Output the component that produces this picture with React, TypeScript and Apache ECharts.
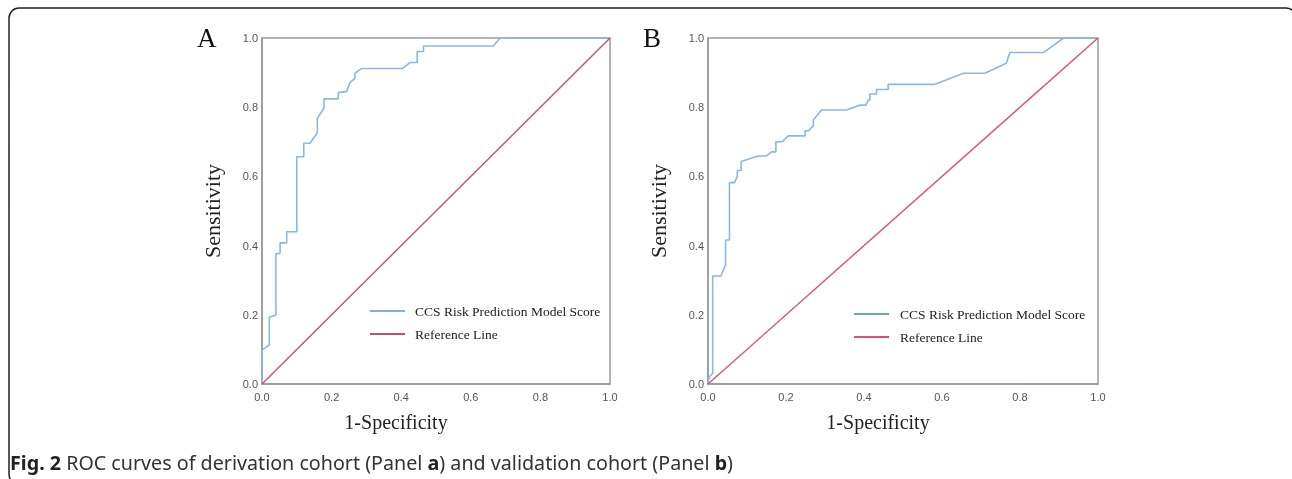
import React, { useEffect, useRef } from "react";
import * as echarts from "echarts";

const seriesNames = ["CCS Risk Prediction Model Score", "Reference Line"];
const panelLabels = ["A", "B"];
const xAxisTitle = "1-Specificity";
const yAxisTitle = "Sensitivity";

// Panel A (derivation cohort)
const fprA = [0, 0, 0.021, 0.021, 0.04, 0.04, 0.052, 0.052, 0.071, 0.071, 0.1, 0.1, 0.12, 0.12, 0.138, 0.159, 0.159, 0.178, 0.178, 0.219, 0.219, 0.243, 0.253, 0.267, 0.267, 0.286, 0.404, 0.425, 0.446, 0.446, 0.464, 0.464, 0.665, 0.684, 1];
const tprA = [0, 0.098, 0.113, 0.193, 0.199, 0.376, 0.378, 0.408, 0.408, 0.44, 0.44, 0.657, 0.657, 0.696, 0.696, 0.726, 0.768, 0.797, 0.824, 0.824, 0.842, 0.845, 0.871, 0.883, 0.898, 0.912, 0.912, 0.929, 0.929, 0.961, 0.961, 0.977, 0.977, 1, 1];

// Panel B (validation cohort)
const fprB = [0, 0.003, 0.012, 0.012, 0.033, 0.045, 0.045, 0.055, 0.055, 0.068, 0.075, 0.075, 0.085, 0.085, 0.129, 0.15, 0.163, 0.174, 0.174, 0.19, 0.206, 0.249, 0.249, 0.258, 0.27, 0.27, 0.291, 0.355, 0.39, 0.405, 0.411, 0.415, 0.415, 0.432, 0.432, 0.462, 0.462, 0.582, 0.655, 0.71, 0.765, 0.774, 0.86, 0.912, 1];
const tprB = [0, 0.02, 0.031, 0.312, 0.312, 0.344, 0.416, 0.416, 0.582, 0.582, 0.6, 0.617, 0.617, 0.643, 0.659, 0.659, 0.671, 0.671, 0.7, 0.7, 0.717, 0.717, 0.732, 0.732, 0.746, 0.763, 0.792, 0.792, 0.806, 0.806, 0.821, 0.821, 0.838, 0.838, 0.851, 0.851, 0.866, 0.866, 0.898, 0.898, 0.927, 0.958, 0.958, 1, 1];

const refX = [0, 1];
const refY = [0, 1];

const captionBold = "Fig. 2";
const captionText = " ROC curves of derivation cohort (Panel ";
const captionMid = ") and validation cohort (Panel ";

const zip = (xs: number[], ys: number[]) => xs.map((x, i) => [x, ys[i]]);

export default function App() {
  const ref = useRef<HTMLDivElement>(null);
  useEffect(() => {
    document.body.style.margin = "0";
    const chart = echarts.init(ref.current!, null, { renderer: "svg" });
    const serif = "'Liberation Serif', 'DejaVu Serif', serif";
    const sans = "'Liberation Sans', Arial, sans-serif";
    const grids = [
      { left: 262, top: 38, width: 348, height: 346 },
      { left: 708, top: 38, width: 390, height: 346 },
    ];
    const titleShift = [80, 50];
    const mkX = (i: number) => ({
      type: "value",
      gridIndex: i,
      min: 0,
      max: 1,
      interval: 0.2,
      name: xAxisTitle,
      nameLocation: "middle",
      nameGap: 28,
      nameTextStyle: { fontFamily: serif, fontSize: 20, color: "#222", padding: [0, titleShift[i], 0, 0] },
      axisLine: { show: true, lineStyle: { color: "#999", width: 1.5 } },
      axisTick: { show: false },
      splitLine: { show: false },
      axisLabel: {
        color: "#555",
        fontFamily: sans,
        fontSize: 11,
        margin: 7,
        formatter: (v: number) => v.toFixed(1),
      },
    });
    const mkY = (i: number) => ({
      type: "value",
      gridIndex: i,
      min: 0,
      max: 1,
      interval: 0.2,
      name: yAxisTitle,
      nameLocation: "middle",
      nameGap: 39,
      nameTextStyle: { fontFamily: serif, fontSize: 22, color: "#222" },
      axisLine: { show: true, lineStyle: { color: "#999", width: 1.5 } },
      axisTick: { show: false },
      splitLine: { show: false },
      axisLabel: {
        color: "#555",
        fontFamily: sans,
        fontSize: 11,
        margin: 4,
        formatter: (v: number) => v.toFixed(1),
      },
    });
    const blueA = "#8ab8e6";
    const blueB = "#8ab8e6";
    const redA = "#c8506e";
    const redB = "#e0506e";
    const legendBase = (left: number, top: number, pad: number, colors: string[]) => ({
      orient: "vertical",
      left,
      top,
      padding: 0,
      itemWidth: 35,
      itemHeight: 2,
      itemGap: 9,
      textStyle: { fontFamily: serif, fontSize: 13.5, color: "#222", padding: [0, 0, 0, pad] },
      data: seriesNames.map((n, k) => ({
        name: n,
        icon: "rect",
        itemStyle: { color: colors[k], borderWidth: 0 },
      })),
    });
    chart.setOption({
      animation: false,
      grid: grids.map((g) => ({ ...g, show: true, borderColor: "#999", borderWidth: 1.5, backgroundColor: "transparent" })),
      xAxis: [mkX(0), mkX(1)],
      yAxis: [mkY(0), mkY(1)],
      legend: [legendBase(370, 304, 5, ["#7fb0e0", redA]), legendBase(854, 307, 6, ["#6ea8b8", redB])],
      series: [
        {
          name: seriesNames[0],
          type: "line",
          xAxisIndex: 0,
          yAxisIndex: 0,
          symbol: "none",
          data: zip(fprA, tprA),
          lineStyle: { color: blueA, width: 1.6 },
          itemStyle: { color: blueA },
        },
        {
          name: seriesNames[1],
          type: "line",
          xAxisIndex: 0,
          yAxisIndex: 0,
          symbol: "none",
          data: zip(refX, refY),
          lineStyle: { color: redA, width: 1.4 },
          itemStyle: { color: redA },
        },
        {
          name: seriesNames[0],
          type: "line",
          xAxisIndex: 1,
          yAxisIndex: 1,
          symbol: "none",
          data: zip(fprB, tprB),
          lineStyle: { color: blueB, width: 1.6 },
          itemStyle: { color: blueB },
        },
        {
          name: seriesNames[1],
          type: "line",
          xAxisIndex: 1,
          yAxisIndex: 1,
          symbol: "none",
          data: zip(refX, refY),
          lineStyle: { color: redB, width: 1.4 },
          itemStyle: { color: redB },
        },
      ],
      graphic: [
        {
          type: "rect",
          shape: { x: 9, y: 8, width: 1287, height: 476, r: 10 },
          style: { fill: "none", stroke: "#222", lineWidth: 1.5 },
          silent: true,
        },
        {
          type: "text",
          x: 197,
          y: 24,
          style: { text: panelLabels[0], font: `27px ${serif}`, fill: "#111" },
        },
        {
          type: "text",
          x: 643,
          y: 24,
          style: { text: panelLabels[1], font: `27px ${serif}`, fill: "#111" },
        },
        {
          type: "text",
          x: 10,
          y: 462,
          style: {
            text: `{b|${captionBold}}${captionText}{b|a}${captionMid}{b|b})`,
            font: "19.7px 'Noto Sans', 'Open Sans', sans-serif",
            fill: "#333",
            verticalAlign: "middle",
            rich: {
              b: { fontWeight: "bold", fontSize: 19.7, fontFamily: "'Noto Sans', sans-serif", fill: "#222" },
            },
          },
        },
      ],
    });
    return () => chart.dispose();
  }, []);
  return <div ref={ref} style={{ position: "fixed", left: 0, top: 0, width: 1292, height: 479 }} />;
}
